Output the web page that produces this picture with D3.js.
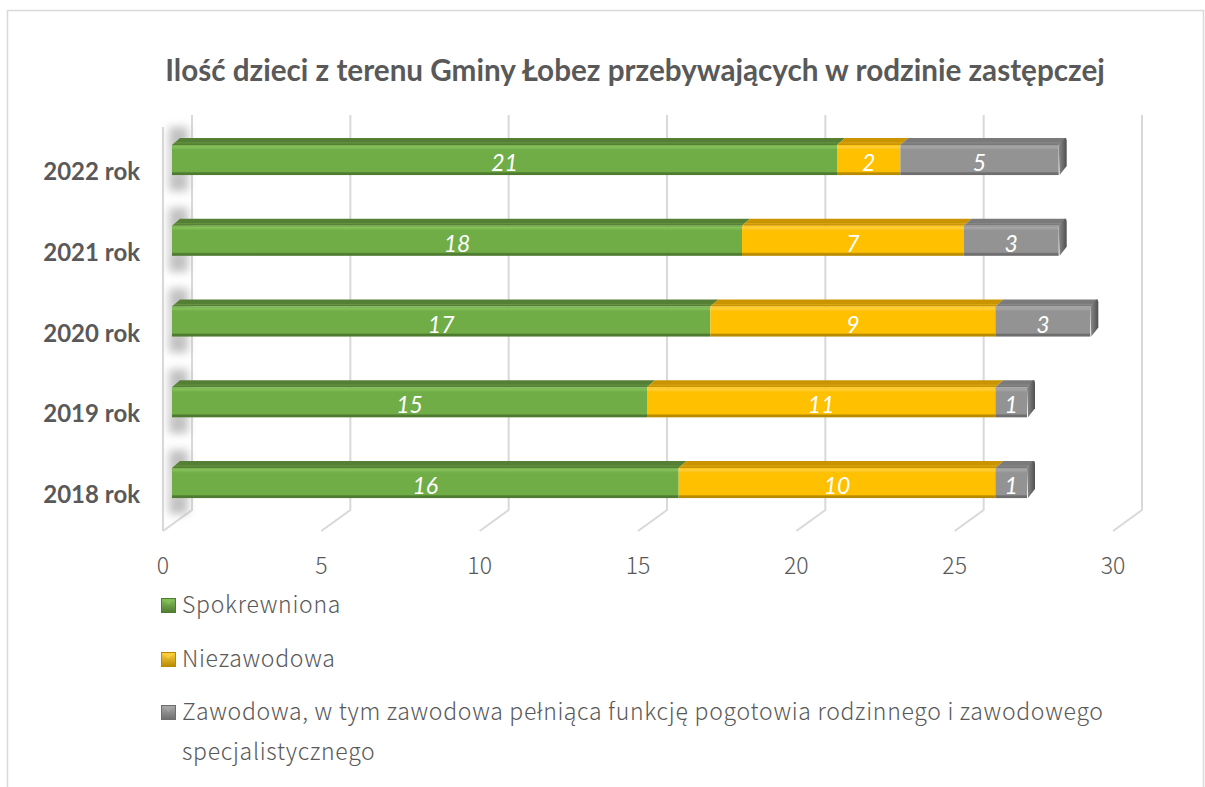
<!DOCTYPE html>
<html>
<head>
<meta charset="utf-8">
<script src="https://cdn.jsdelivr.net/npm/d3@7"></script>
<style>
  html, body { margin: 0; padding: 0; background: #fff; }
  svg { display: block; }
</style>
</head>
<body>
<svg id="chart" width="1205" height="787"></svg>
<script>
// ---------- data ----------
const title = "Ilość dzieci z terenu Gminy Łobez przebywających w rodzinie zastępczej";
const categories = ["2018 rok", "2019 rok", "2020 rok", "2021 rok", "2022 rok"];
const seriesNames = [
  "Spokrewniona",
  "Niezawodowa",
  "Zawodowa, w tym zawodowa pełniąca funkcję pogotowia rodzinnego i zawodowego specjalistycznego"
];
const spokrewniona = [16, 15, 17, 18, 21];
const niezawodowa  = [10, 11, 9, 7, 2];
const zawodowa     = [1, 1, 3, 3, 5];
const tickValues   = [0, 5, 10, 15, 20, 25, 30];

// ---------- styles ----------
const frontColors = ["#70AD47", "#FFC000", "#939393"];
const topColors   = ["#557f35", "#c99400", "#7a7a7a"];
const lightColors = ["#86c25a", "#ffd040", "#a8a8a8"];
const darkColors  = ["#4f7b31", "#b88a00", "#6e6e6e"];
const textGray    = "#595959";
const gridColor   = "#d9d9d9";

const svg = d3.select("#chart");
const defs = svg.append("defs");

frontColors.forEach((c, i) => {
  const g = defs.append("linearGradient").attr("id", "fg" + i)
    .attr("x1", 0).attr("y1", 0).attr("x2", 0).attr("y2", 1);
  g.append("stop").attr("offset", "0").attr("stop-color", c);
  g.append("stop").attr("offset", "0.06").attr("stop-color", lightColors[i]);
  g.append("stop").attr("offset", "0.16").attr("stop-color", c);
  g.append("stop").attr("offset", "0.88").attr("stop-color", c);
  g.append("stop").attr("offset", "0.93").attr("stop-color", darkColors[i]);
  g.append("stop").attr("offset", "1").attr("stop-color", darkColors[i]);
  const m = defs.append("linearGradient").attr("id", "mk" + i)
    .attr("x1", 0).attr("y1", 0).attr("x2", 0).attr("y2", 1);
  m.append("stop").attr("offset", "0").attr("stop-color", lightColors[i]);
  m.append("stop").attr("offset", "1").attr("stop-color", darkColors[i]);
});
const sideG = defs.append("linearGradient").attr("id", "side")
  .attr("x1", 0).attr("y1", 0).attr("x2", 1).attr("y2", 0);
sideG.append("stop").attr("offset", "0").attr("stop-color", "#8a8a8a");
sideG.append("stop").attr("offset", "1").attr("stop-color", "#505050");

const blur = defs.append("filter").attr("id", "blur")
  .attr("x", "-50%").attr("y", "-50%").attr("width", "200%").attr("height", "200%");
blur.append("feGaussianBlur").attr("stdDeviation", 4);

// ---------- outer border ----------
svg.append("rect").attr("x", 7.5).attr("y", 10.5).attr("width", 1196).attr("height", 800)
  .attr("fill", "none").attr("stroke", gridColor).attr("stroke-width", 1.5);

// ---------- geometry ----------
const WALL_DX = 29, WALL_DY = -21;
const BAR_FRONT = 9, BAR_BACK = 17;
const BAR_DY = -7;
const x = d3.scaleLinear().domain([0, 30]).range([163, 1113]); // front plane
const floorY = 531;
const wallTop = 115;

const y = d3.scaleBand().domain(categories.slice().reverse())
  .range([94.3, 548.8]).paddingInner(0.628).paddingOuter(0.628);

// ---------- gridlines ----------
const grid = svg.append("g").attr("stroke", gridColor).attr("stroke-width", 2).attr("fill", "none");
tickValues.forEach(v => {
  const xb = x(v) + WALL_DX, xf = x(v);
  grid.append("path").attr("d", `M${xb},${wallTop} L${xb},${floorY + WALL_DY} L${xf},${floorY}`);
});
grid.append("line").attr("x1", x(0)).attr("x2", x(0)).attr("y1", wallTop + 12).attr("y2", floorY);

// ---------- shadows on the left wall ----------
const shadows = svg.append("g").attr("filter", "url(#blur)");
categories.forEach(c => {
  shadows.append("rect")
    .attr("x", x(0) + 6).attr("width", WALL_DX - 10)
    .attr("y", y(c) - 18).attr("height", y.bandwidth() + 34)
    .attr("fill", "#a6a6a6").attr("opacity", 0.7);
});
const shadowsMid = svg.append("g").attr("filter", "url(#blur)");
categories.forEach(c => {
  shadowsMid.append("rect")
    .attr("x", x(0) + 10).attr("width", WALL_DX - 18)
    .attr("y", y(c) + 2).attr("height", y.bandwidth() - 4)
    .attr("fill", "#ffffff").attr("opacity", 0.55);
});

// ---------- bars ----------
const seriesData = [spokrewniona, niezawodowa, zawodowa];
const stackInput = categories.map((c, i) => ({ cat: c, s0: spokrewniona[i], s1: niezawodowa[i], s2: zawodowa[i] }));
const stacked = d3.stack().keys(["s0", "s1", "s2"])(stackInput);

const bars = svg.append("g");
categories.forEach((c, ci) => {
  const g = bars.append("g");
  const top = y(c), h = y.bandwidth();
  const xb = v => x(v) + BAR_FRONT;
  const dx = BAR_BACK - BAR_FRONT;
  stacked.forEach((layer, si) => {
    const d = layer[ci];
    const x0 = xb(d[0]), x1 = xb(d[1]);
    g.append("path")
      .attr("d", `M${x0},${top} L${x0 + dx},${top + BAR_DY} L${x1 + dx},${top + BAR_DY} L${x1},${top} Z`)
      .attr("fill", topColors[si]);
    g.append("path")
      .attr("d", `M${x0 + dx * 0.3},${top + BAR_DY * 0.3} L${x1 + dx * 0.3},${top + BAR_DY * 0.3}`)
      .attr("stroke", lightColors[si]).attr("stroke-opacity", 0.35).attr("stroke-width", 1);
    g.append("rect").attr("x", x0).attr("y", top).attr("width", x1 - x0).attr("height", h)
      .attr("fill", `url(#fg${si})`);
  });
  const xe = xb(stacked[2][ci][1]);
  g.append("path")
    .attr("d", `M${xe},${top} L${xe + dx - 2},${top + BAR_DY} Q${xe + dx},${top + BAR_DY} ${xe + dx},${top + BAR_DY + 3}
                L${xe + dx},${top + h + BAR_DY - 2} L${xe + 1},${top + h} Z`)
    .attr("fill", "url(#side)");
  stacked.forEach((layer, si) => {
    const d = layer[ci];
    g.append("text")
      .attr("x", (xb(d[0]) + xb(d[1])) / 2)
      .attr("y", top + h / 2 + 11)
      .attr("text-anchor", "middle")
      .attr("font-family", "Lato, 'Open Sans', sans-serif")
      .attr("font-style", "italic")
      .attr("font-size", 23)
      .attr("fill", "#ffffff")
      .text(seriesData[si][ci]);
  });
});

// ---------- category labels ----------
svg.append("g").selectAll("text").data(categories).join("text")
  .attr("x", 140)
  .attr("y", d => y(d) + y.bandwidth() / 2 + 20)
  .attr("text-anchor", "end")
  .attr("font-family", "Lato, sans-serif")
  .attr("font-weight", "bold")
  .attr("font-size", 24)
  .attr("fill", textGray)
  .text(d => d);

// ---------- x tick labels ----------
svg.append("g").selectAll("text").data(tickValues).join("text")
  .attr("x", d => x(d))
  .attr("y", 574)
  .attr("text-anchor", "middle")
  .attr("font-family", "'Noto Sans CJK JP', 'Noto Sans', sans-serif")
  .attr("font-weight", 300)
  .attr("font-size", 23)
  .attr("fill", textGray)
  .text(d => d);

// ---------- title ----------
const t = svg.append("text")
  .attr("x", 635).attr("y", 81)
  .attr("text-anchor", "middle")
  .attr("font-family", "Lato, sans-serif")
  .attr("font-weight", "bold")
  .attr("font-size", 28)
  .attr("fill", textGray)
  .text(title);
const tw = t.node().getComputedTextLength();
t.attr("font-size", 28 * 940 / tw);

// ---------- legend ----------
const legend = svg.append("g");
const legendRows = [613, 667, 720];
const legendFont = 23;
seriesNames.forEach((name, i) => {
  legend.append("rect")
    .attr("x", 161.5).attr("y", legendRows[i] - 14.5).attr("width", 14).attr("height", 14)
    .attr("fill", `url(#mk${i})`).attr("stroke", darkColors[i]).attr("stroke-width", 1);
  legend.append("path")
    .attr("d", `M${163},${legendRows[i] - 13} L${168.5},${legendRows[i] - 8} L${174},${legendRows[i] - 13} Z`)
    .attr("fill", lightColors[i]).attr("opacity", 0.6);
});
const line3a = "Zawodowa, w tym zawodowa pełniąca funkcję pogotowia rodzinnego i zawodowego";
const line3b = "specjalistycznego";
const legLines = [
  { text: seriesNames[0], y: legendRows[0] },
  { text: seriesNames[1], y: legendRows[1] },
  { text: line3a, y: legendRows[2] },
  { text: line3b, y: legendRows[2] + 40 }
];
const lt = legend.selectAll("text.leg").data(legLines).join("text").attr("class", "leg")
  .attr("x", 182).attr("y", d => d.y)
  .attr("font-family", "'Noto Sans CJK JP', 'Noto Sans', sans-serif")
  .attr("font-weight", 300)
  .attr("font-size", legendFont)
  .attr("fill", textGray)
  .text(d => d.text);
const w3 = lt.nodes()[2].getComputedTextLength();
const ls = (921 - w3) / (line3a.length - 1);
lt.attr("letter-spacing", ls);
</script>
</body>
</html>
